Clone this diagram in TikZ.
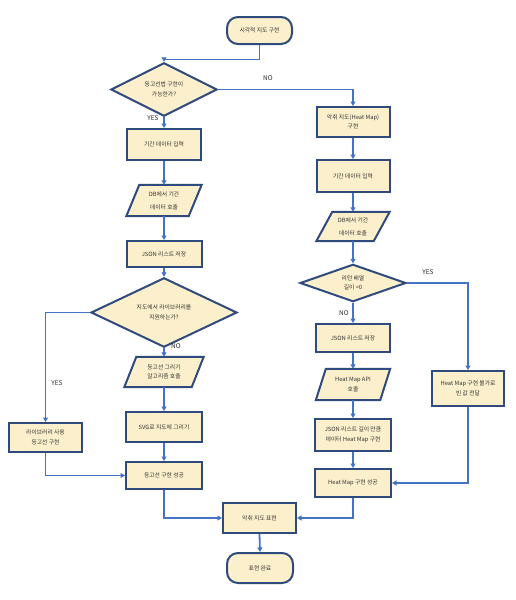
\documentclass[tikz,border=0pt]{standalone}
\usepackage{fontspec}
\setmainfont{Noto Sans CJK KR}
\usetikzlibrary{shapes.geometric,arrows.meta,backgrounds,calc}
\definecolor{boxfill}{HTML}{FCEFCB}
\definecolor{boxline}{HTML}{2F4A7C}
\definecolor{connline}{HTML}{4472C4}
\begin{document}
\begin{tikzpicture}[x=1pt,y=-1pt,
  box/.style={draw=boxline, fill=boxfill, line width=2pt, inner sep=1pt, align=center,
    font=\fontsize{5.8}{9.5}\selectfont, text=black!80},
  term/.style={box, rounded corners=11pt},
  dec/.style={box, diamond, inner sep=0pt},
  para/.style={inner sep=0pt, align=center, font=\fontsize{5.8}{9.5}\selectfont, text=black!80},
  paradraw/.style={draw=boxline, fill=boxfill, line width=2pt},
  conn/.style={draw=connline, line width=1.8pt, -{Triangle[length=4.5pt,width=5pt]}},
  lbl/.style={font=\fontsize{6.5}{8}\selectfont, text=black!85}]
\useasboundingbox (0,0) rectangle (516,600);

% left column
\node[term, minimum width=65pt, minimum height=27pt] (start) at (259.5,30.5) {시각적 지도 구현};
\node[dec, minimum width=106pt, minimum height=35pt] (d1) at (164,89.5) {등고선법 구현이\\가능한가?};
\node[box, minimum width=74pt, minimum height=31pt] (in1) at (164,144.5) {기간 데이터 입력};
\node[para, minimum width=75pt, minimum height=31pt, font=\fontsize{5.8}{13}\selectfont] (db1) at (164,200.5) {DB에서 기간\\데이터 호출};
\node[box, minimum width=75pt, minimum height=26pt] (json1) at (164,254) {JSON 리스트 저장};
\node[dec, minimum width=146pt, minimum height=39pt] (d2) at (164,312.5) {지도에서 라이브러리를\\지원하는가?};
\node[para, minimum width=79pt, minimum height=30pt] (alg) at (164,372) {등고선 그리기\\알고리즘 호출};
\node[box, minimum width=76pt, minimum height=30pt] (svg) at (164,427) {SVG로 지도에 그리기};
\node[box, minimum width=73pt, minimum height=29pt] (lib) at (45.5,437.5) {라이브러리 사용\\등고선 구현};
\node[box, minimum width=76pt, minimum height=27pt] (cont) at (164,475.5) {등고선 구현 성공};

% right column
\node[box, minimum width=73pt, minimum height=30pt] (heat) at (353,122) {악취 지도(Heat Map)\\구현};
\node[box, minimum width=73pt, minimum height=32pt] (in2) at (353,176) {기간 데이터 입력};
\node[para, minimum width=73pt, minimum height=29pt, font=\fontsize{5.8}{13}\selectfont] (db2) at (353,226.5) {DB에서 기간\\데이터 호출};
\node[dec, minimum width=106pt, minimum height=34pt] (d3) at (353,283) {리턴 배열\\길이 =0};
\node[box, minimum width=74pt, minimum height=28pt] (json2) at (353,338) {JSON 리스트 저장};
\node[para, minimum width=74pt, minimum height=31pt] (api) at (353,384.5) {Heat Map API\\호출};
\node[box, minimum width=72pt, minimum height=35pt] (fail) at (468,388.5) {Heat Map 구현 불가로\\빈 값 전달};
\node[box, minimum width=76pt, minimum height=32pt] (hm) at (353,435) {JSON 리스트 길이 만큼\\데이터 Heat Map 구현};
\node[box, minimum width=76pt, minimum height=28pt] (hmok) at (353,483) {Heat Map 구현 성공};

% bottom
\node[box, minimum width=73pt, minimum height=30pt] (show) at (259.5,518) {악취 지도 표현};
\node[term, minimum width=66pt, minimum height=30pt] (fin) at (260,568) {표현 완료};

% parallelogram outlines
\begin{scope}[on background layer]
  \foreach \n/\s in {db1/13,alg/12,db2/16,api/10}{
    \draw[paradraw] ([xshift=\s pt]\n.north west) -- (\n.north east)
      -- ([xshift=-\s pt]\n.south east) -- (\n.south west) -- cycle;
  }
\end{scope}

% connectors
\draw[conn] (start.south) -- ++(0,14.5) -| (d1.north);
\draw[conn] (d1.east) -| (heat.north);
\draw[conn] (d1.south) -- (in1.north);
\draw[conn] (in1.south) -- (db1.north);
\draw[conn] (db1.south) -- (json1.north);
\draw[conn] (json1.south) -- (d2.north);
\draw[conn] (d2.west) -| (lib.north);
\draw[conn] (d2.south) -- (alg.north);
\draw[conn] (alg.south) -- (svg.north);
\draw[conn] (svg.south) -- (cont.north);
\draw[conn] (lib.south) |- (cont.west);

\draw[conn] (heat.south) -- (in2.north);
\draw[conn] (in2.south) -- (db2.north);
\draw[conn] (db2.south) -- (d3.north);
\draw[conn] (d3.east) -| (fail.north);
\draw[conn] (d3.south) -- (json2.north);
\draw[conn] (json2.south) -- (api.north);
\draw[conn] (api.south) -- (hm.north);
\draw[conn] (hm.south) -- (hmok.north);
\draw[conn] (fail.south) |- (hmok.east);

\draw[conn] (cont.south) |- (show.west);
\draw[conn] (hmok.south) |- (show.east);
\draw[conn] (show.south) -- (fin.north);

% labels
\node[lbl] (lno1) at (268,78) {NO};
\node[lbl] (lyes1) at (153,118) {YES};
\node[lbl] (lyes2) at (57,383) {YES};
\node[lbl] (lno2) at (176,346) {NO};
\node[lbl] (lyes3) at (428,272) {YES};
\node[lbl] (lno3) at (344,313) {NO};
\end{tikzpicture}
\end{document}
